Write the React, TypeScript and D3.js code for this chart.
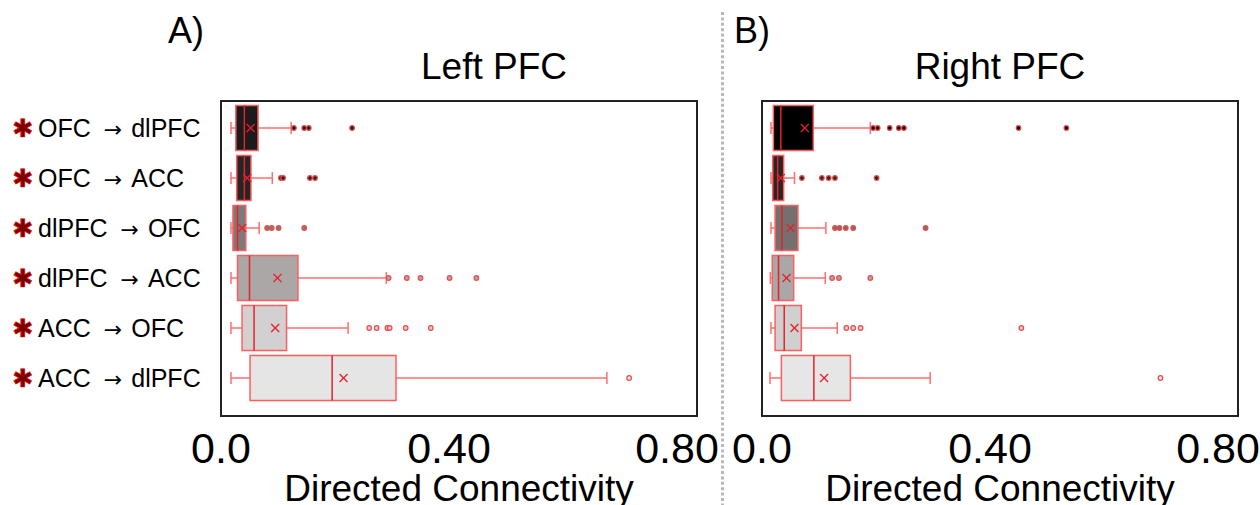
import React from "react";
import * as d3 from "d3";

// ---------- DATA ----------
const sources = ["OFC", "OFC", "dlPFC", "dlPFC", "ACC", "ACC"];
const targets = ["dlPFC", "ACC", "OFC", "ACC", "OFC", "dlPFC"];
const categories = sources.map((s, i) => `${s} → ${targets[i]}`);
const tickValues = [0, 0.4, 0.8];
const tickLabels = ["0.0", "0.40", "0.80"];
const panelTitles = ["Left PFC", "Right PFC"];
const panelLetters = ["A)", "B)"];
const axisTitle = "Directed Connectivity";

// Left PFC
const leftMin = [0.0175, 0.0175, 0.0175, 0.0175, 0.0175, 0.0175];
const leftQ1 = [0.026, 0.0275, 0.021, 0.029, 0.037, 0.051];
const leftMedian = [0.041, 0.041, 0.029, 0.05, 0.058, 0.195];
const leftMean = [0.052, 0.046, 0.037, 0.099, 0.095, 0.215];
const leftQ3 = [0.065, 0.0526, 0.0435, 0.135, 0.115, 0.307];
const leftMax = [0.123, 0.09, 0.067, 0.29, 0.223, 0.677];
const leftOutliers = [
  [0.128, 0.146, 0.154, 0.23],
  [0.105, 0.109, 0.156, 0.165],
  [0.081, 0.089, 0.101, 0.146],
  [0.294, 0.326, 0.35, 0.401, 0.448],
  [0.26, 0.273, 0.292, 0.296, 0.324, 0.368],
  [0.716],
];
const leftFills = ["#1b1b1b", "#252525", "#7b7b7b", "#aba7a6", "#d2d0d0", "#e5e5e5"];

// Right PFC
const rightMin = [0.0158, 0.0158, 0.0158, 0.0146, 0.0158, 0.014];
const rightQ1 = [0.02, 0.0188, 0.023, 0.018, 0.023, 0.034];
const rightMedian = [0.033, 0.0275, 0.035, 0.029, 0.039, 0.091];
const rightMean = [0.075, 0.033, 0.05, 0.043, 0.057, 0.109];
const rightQ3 = [0.09, 0.038, 0.063, 0.0556, 0.069, 0.155];
const rightMax = [0.19, 0.057, 0.112, 0.111, 0.132, 0.295];
const rightOutliers = [
  [0.195, 0.203, 0.224, 0.24, 0.249, 0.45, 0.534],
  [0.07, 0.105, 0.117, 0.128, 0.201],
  [0.128, 0.136, 0.147, 0.16, 0.287],
  [0.123, 0.135, 0.19],
  [0.148, 0.16, 0.173, 0.455],
  [0.699],
];
const rightFills = ["#000000", "#262626", "#757070", "#a8a8a8", "#d0d0d0", "#e6e6e6"];

// ---------- LAYOUT ----------
const W = 1260;
const H = 505;
const FONT = "'Liberation Sans', Arial, Helvetica, sans-serif";
const frameTop = 101;
const frameBottom = 416;
const frameWidth = 476;

const panels = [
  {
    frameLeft: 221, titleX: 494, letterX: 168, title: panelTitles[0], letter: panelLetters[0],
    min: leftMin, q1: leftQ1, med: leftMedian, mean: leftMean, q3: leftQ3, max: leftMax, out: leftOutliers, fills: leftFills,
  },
  {
    frameLeft: 762, titleX: 1000, letterX: 734, title: panelTitles[1], letter: panelLetters[1],
    min: rightMin, q1: rightQ1, med: rightMedian, mean: rightMean, q3: rightQ3, max: rightMax, out: rightOutliers, fills: rightFills,
  },
];

const yBand = d3.scaleBand<string>().domain(categories).range([103, 403]).paddingInner(0.1).paddingOuter(0.05);

const boxStroke = "#ff5e5e";
const whiskerStroke = "#ff6e6e";
const medianStroke = "#e8202a";
const outlierStroke = "#f04848";

function Panel({ p }: { p: typeof panels[number] }) {
  const x = d3.scaleLinear().domain([0, 0.8]).range([p.frameLeft, p.frameLeft + 456]);
  const bw = yBand.bandwidth();
  const capH = 12;
  return (
    <g>
      <text x={p.letterX} y={43} fontFamily={FONT} fontSize={36} fill="#000">{p.letter}</text>
      <text x={p.titleX} y={79} fontFamily={FONT} fontSize={37} textAnchor="middle" fill="#000">{p.title}</text>
      {categories.map((c, i) => {
        const y0 = yBand(c)!;
        const cy = y0 + bw / 2;
        const mx = x(p.mean[i]);
        return (
          <g key={c}>
            <line x1={x(p.min[i])} x2={x(p.q1[i])} y1={cy} y2={cy} stroke={whiskerStroke} strokeWidth={1.5} />
            <line x1={x(p.q3[i])} x2={x(p.max[i])} y1={cy} y2={cy} stroke={whiskerStroke} strokeWidth={1.5} />
            <line x1={x(p.min[i])} x2={x(p.min[i])} y1={cy - capH / 2} y2={cy + capH / 2} stroke={whiskerStroke} strokeWidth={1.5} />
            <line x1={x(p.max[i])} x2={x(p.max[i])} y1={cy - capH / 2} y2={cy + capH / 2} stroke={whiskerStroke} strokeWidth={1.5} />
            <rect x={x(p.q1[i])} y={y0} width={x(p.q3[i]) - x(p.q1[i])} height={bw} fill={p.fills[i]} stroke={boxStroke} strokeWidth={1.5} />
            <line x1={x(p.med[i])} x2={x(p.med[i])} y1={y0} y2={y0 + bw} stroke={medianStroke} strokeWidth={1.5} />
            <line x1={mx - 4} x2={mx + 4} y1={cy - 4} y2={cy + 4} stroke={medianStroke} strokeWidth={1.3} />
            <line x1={mx - 4} x2={mx + 4} y1={cy + 4} y2={cy - 4} stroke={medianStroke} strokeWidth={1.3} />
            {p.out[i].map((v, j) => (
              <circle key={j} cx={x(v)} cy={cy} r={2.3} fill={p.fills[i]} stroke={outlierStroke} strokeWidth={1.2} />
            ))}
          </g>
        );
      })}
      <rect x={p.frameLeft} y={frameTop} width={frameWidth} height={frameBottom - frameTop} fill="none" stroke="#222" strokeWidth={2} />
      {tickValues.map((t, i) => (
        <text key={t} x={x(t)} y={463} fontFamily={FONT} fontSize={43} textAnchor="middle" fill="#000">{tickLabels[i]}</text>
      ))}
      <text x={p.frameLeft + frameWidth / 2} y={501} fontFamily={FONT} fontSize={37} textAnchor="middle" fill="#000">{axisTitle}</text>
    </g>
  );
}

export default function App() {
  const bw = yBand.bandwidth();
  return (
    <svg width={W} height={H} viewBox={`0 0 ${W} ${H}`} style={{ position: "absolute", left: 0, top: 0, background: "#fff" }}>
      <rect x={0} y={0} width={W} height={H} fill="#fff" />
      <line x1={722.5} x2={722.5} y1={12} y2={505} stroke="#b8b8b8" strokeWidth={3} strokeDasharray="3 2.4" />
      {panels.map((p, k) => <Panel key={k} p={p} />)}
      {categories.map((c, i) => {
        const cy = yBand(c)! + bw / 2;
        return (
          <g key={c}>
            <text x={23} y={cy + 9} fontFamily="'DejaVu Sans', sans-serif" fontSize={25} fontWeight="bold" textAnchor="middle" fill="#7a0000" stroke="#e01010" strokeWidth={0.7}>✱</text>
            <text x={38} y={cy + 9} fontFamily={FONT} fontSize={25} fill="#000">
              {sources[i]}
              <tspan fontFamily="'DejaVu Sans', sans-serif" fontSize={22} dx={13}>→</tspan>
              <tspan dx={9}>{targets[i]}</tspan>
            </text>
          </g>
        );
      })}
    </svg>
  );
}
